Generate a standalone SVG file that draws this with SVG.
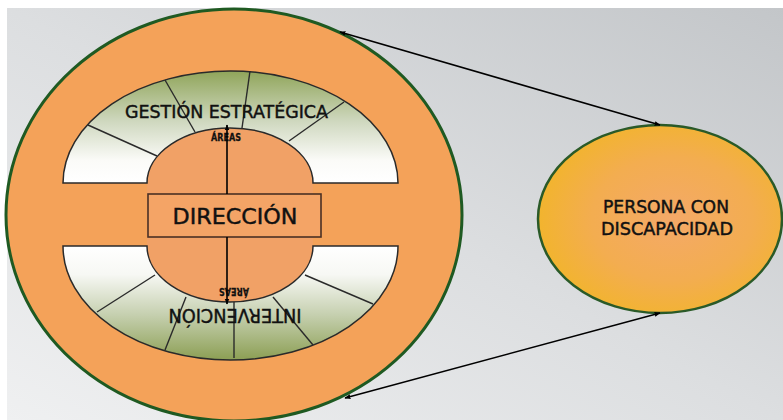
<svg xmlns="http://www.w3.org/2000/svg" width="783" height="420" viewBox="0 0 783 420">
<defs>
<linearGradient id="bg" x1="0" y1="1" x2="1" y2="0">
<stop offset="0" stop-color="#eff0f1"/>
<stop offset="0.5" stop-color="#dcdee0"/>
<stop offset="1" stop-color="#c3c6c9"/>
</linearGradient>
<linearGradient id="gUp" x1="0" y1="0" x2="0" y2="1">
<stop offset="0" stop-color="#90a55a"/>
<stop offset="0.45" stop-color="#cfd8bf"/>
<stop offset="0.8" stop-color="#fbfbf8"/>
<stop offset="1" stop-color="#ffffff"/>
</linearGradient>
<linearGradient id="gDown" x1="0" y1="0" x2="0" y2="1">
<stop offset="0" stop-color="#ffffff"/>
<stop offset="0.25" stop-color="#f7f8f4"/>
<stop offset="0.6" stop-color="#c6d0b0"/>
<stop offset="1" stop-color="#8c9f54"/>
</linearGradient>
<radialGradient id="gPer" cx="0.55" cy="0.5" r="0.55">
<stop offset="0" stop-color="#f4a968"/>
<stop offset="0.6" stop-color="#f3ad50"/>
<stop offset="1" stop-color="#f2b42e"/>
</radialGradient>
<marker id="ah" viewBox="0 0 10 10" refX="9" refY="5" markerWidth="6" markerHeight="6" orient="auto-start-reverse" markerUnits="userSpaceOnUse">
<path d="M0,1 L10,5 L0,9 z" fill="#000"/>
</marker>
<style>
.lbl{font-family:"DejaVu Sans","Liberation Sans",sans-serif;fill:#111;stroke:#111;stroke-width:0.45;}
.sm{stroke-width:0.3;}
.arch{stroke:#2a2a2a;stroke-width:1.5;}
.div{stroke:#2a2a2a;stroke-width:1.4;fill:none;}
.conn{stroke:#000;stroke-width:1.6;fill:none;}
</style>
</defs>
<rect x="0" y="0" width="783" height="420" fill="#ffffff"/>
<rect x="7" y="8" width="776" height="412" fill="url(#bg)"/>

<g id="node-organizacion">
<ellipse cx="234" cy="215" rx="228" ry="206" fill="#f4a259" stroke="#1f5a22" stroke-width="3"/>
<path d="M147 183 A83 55 0 0 1 313 183 L313 246 A83 56 0 0 1 147 246 Z" fill="#f1a166"/>
</g>

<g id="node-gestion">
<path class="arch" d="M63 183 A167.5 112 0 0 1 398 183 L313 183 A83 55 0 0 0 147 183 Z" fill="url(#gUp)"/>
<line class="div" x1="88" y1="125" x2="157" y2="156"/>
<line class="div" x1="165" y1="80" x2="195" y2="132"/>
<line class="div" x1="250" y1="71" x2="242" y2="128"/>
<line class="div" x1="344" y1="102" x2="289" y2="141"/>
<text class="lbl" x="226.5" y="118" font-size="18" text-anchor="middle" textLength="203" lengthAdjust="spacingAndGlyphs">GESTIÓN ESTRATÉGICA</text>
<text class="lbl sm" x="226" y="141" font-size="10" font-weight="bold" text-anchor="middle" textLength="30" lengthAdjust="spacingAndGlyphs">ÁREAS</text>
</g>

<g id="node-intervencion">
<path class="arch" d="M63 246 A167.5 114 0 0 0 398 246 L313 246 A83 56 0 0 1 147 246 Z" fill="url(#gDown)"/>
<line class="div" x1="97" y1="312" x2="155" y2="275"/>
<line class="div" x1="165" y1="350" x2="186" y2="297"/>
<line class="div" x1="234" y1="358" x2="234" y2="302"/>
<line class="div" x1="313" y1="345" x2="273" y2="297"/>
<line class="div" x1="373" y1="304" x2="305" y2="275"/>
<text class="lbl" x="235" y="323" font-size="19" text-anchor="middle" textLength="133" lengthAdjust="spacingAndGlyphs" transform="rotate(180 235 316)">INTERVENCIÓN</text>
<text class="lbl sm" x="234" y="296" font-size="10" font-weight="bold" text-anchor="middle" textLength="30" lengthAdjust="spacingAndGlyphs" transform="rotate(180 234 292)">ÁREAS</text>
</g>

<g id="node-direccion">
<rect x="148" y="194" width="173" height="43" fill="#f4a466" stroke="#4a3024" stroke-width="1.6"/>
<text class="lbl" x="235" y="224" font-size="22" text-anchor="middle" textLength="125" lengthAdjust="spacingAndGlyphs">DIRECCIÓN</text>
</g>

<g id="node-persona">
<ellipse cx="660" cy="219" rx="122" ry="94" fill="url(#gPer)" stroke="#2a5a28" stroke-width="2.5"/>
<text class="lbl" x="666" y="213" font-size="17" text-anchor="middle" textLength="126" lengthAdjust="spacingAndGlyphs">PERSONA CON</text>
<text class="lbl" x="667" y="235" font-size="17" text-anchor="middle" textLength="132" lengthAdjust="spacingAndGlyphs">DISCAPACIDAD</text>
</g>

<g id="connectors">
<line class="conn" x1="227" y1="194" x2="227" y2="125" marker-end="url(#ah)"/>
<line class="conn" x1="227" y1="237" x2="227" y2="304" marker-end="url(#ah)"/>
<line class="conn" x1="340" y1="32" x2="660" y2="125" marker-start="url(#ah)" marker-end="url(#ah)"/>
<line class="conn" x1="345" y1="398" x2="660" y2="313" marker-start="url(#ah)" marker-end="url(#ah)"/>
</g>
</svg>
